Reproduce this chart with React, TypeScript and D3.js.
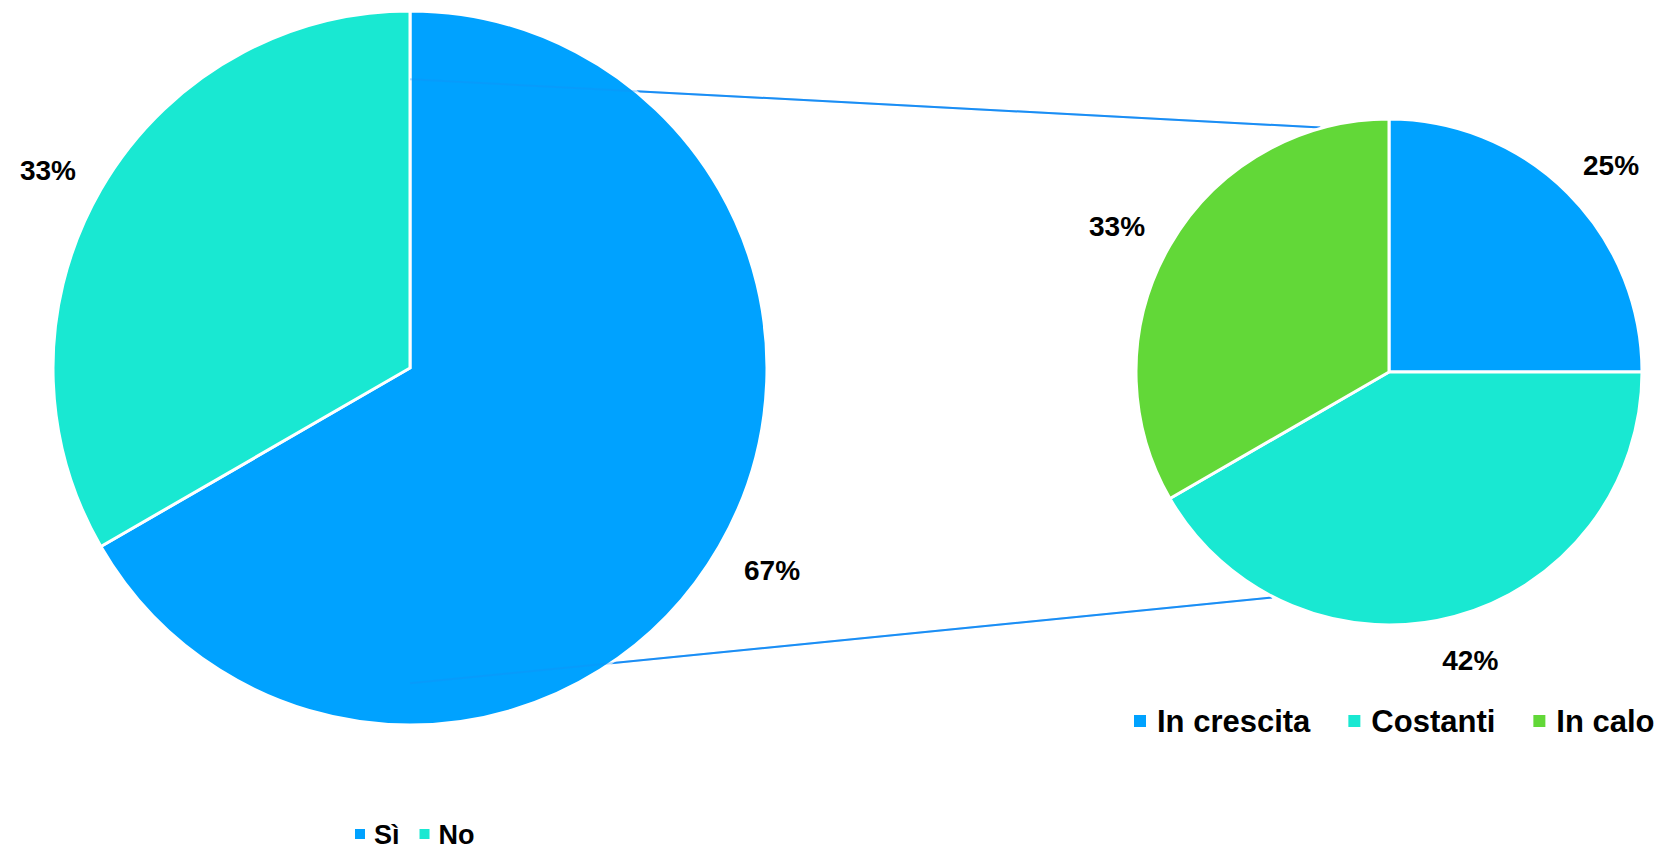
import React from "react";
import * as d3 from "d3";

// ---- data ----
const mainCategories = ["Sì", "No"];
const mainValues = [12, 6];
const subCategories = ["In crescita", "Costanti", "In calo"];
const subValues = [3, 5, 4];
const mainColors = ["#00A2FF", "#19E8D2"];
const subColors = ["#00A2FF", "#19E8D2", "#62D838"];

const W = 1661;
const H = 849;
const FONT = "'Liberation Sans', Arial, sans-serif";

const leftC = { x: 410, y: 368, r: 357 };
const rightC = { x: 1389, y: 372, r: 253 };

function measure(text: string, size: number) {
  const c = document.createElement("canvas").getContext("2d");
  if (!c) return text.length * size * 0.6;
  c.font = `bold ${size}px ${FONT}`;
  return c.measureText(text).width;
}

type PieProps = {
  cx: number;
  cy: number;
  r: number;
  values: number[];
  colors: string[];
};

function PieSlices({ cx, cy, r, values, colors }: PieProps) {
  const pie = d3.pie<number>().sort(null).value((d) => d);
  const arcs = pie(values);
  const arc = d3.arc<d3.PieArcDatum<number>>().innerRadius(0).outerRadius(r);
  return (
    <g transform={`translate(${cx},${cy})`}>
      {arcs.map((a, i) => (
        <path key={i} d={arc(a) || ""} fill={colors[i]} stroke="#fff" strokeWidth={3} strokeLinejoin="miter" />
      ))}
    </g>
  );
}

function PieLabels({ cx, cy, r, values }: { cx: number; cy: number; r: number; values: number[] }) {
  const pie = d3.pie<number>().sort(null).value((d) => d);
  const arcs = pie(values);
  const total = d3.sum(values);
  const fs = 28;
  const h = fs * 0.72;
  return (
    <g>
      {arcs.map((a, i) => {
        const label = Math.round((a.data / total) * 100) + "%";
        const w = measure(label, fs);
        const mid = (a.startAngle + a.endAngle) / 2;
        const R = r + 33;
        const ax = cx + Math.sin(mid) * R;
        const ay = cy - Math.cos(mid) * R;
        const x = ax + (Math.sin(mid) * w) / 2;
        const y = ay - (Math.cos(mid) * h) / 2 + 2;
        return (
          <text key={i} x={x} y={y} dy="0.36em" textAnchor="middle" fontFamily={FONT} fontWeight="bold" fontSize={fs} fill="#000">
            {label}
          </text>
        );
      })}
    </g>
  );
}

function Legend({
  x, y, items, colors, fs, sq, textGap, gap,
}: { x: number; y: number; items: string[]; colors: string[]; fs: number; sq: number; textGap: number; gap: number }) {
  let cur = x;
  const nodes = items.map((t, i) => {
    const w = measure(t, fs);
    const g = (
      <g key={i}>
        <rect x={cur} y={y - sq / 2} width={sq} height={sq} fill={colors[i]} />
        <text x={cur + sq + textGap} y={y} dy="0.36em" fontFamily={FONT} fontWeight="bold" fontSize={fs} fill="#000">
          {t}
        </text>
      </g>
    );
    cur += sq + textGap + w + gap;
    return g;
  });
  return <g>{nodes}</g>;
}

export default function App() {
  // connector line endpoints expressed relative to the pies
  const topStart = { x: leftC.x, y: leftC.y - leftC.r * 0.809 };
  const botStart = { x: leftC.x, y: leftC.y + leftC.r * 0.883 };
  const topEndA = (344.3 * Math.PI) / 180;
  const botEndA = (207.4 * Math.PI) / 180;
  const rr = rightC.r + 1;
  const topEnd = { x: rightC.x + Math.sin(topEndA) * rr, y: rightC.y - Math.cos(topEndA) * rr };
  const botEnd = { x: rightC.x + Math.sin(botEndA) * rr, y: rightC.y - Math.cos(botEndA) * rr };
  const lineColor = "#1A8EF5";

  const lines = (op: number) => (
    <g opacity={op}>
      <line x1={topStart.x} y1={topStart.y} x2={topEnd.x} y2={topEnd.y} stroke={lineColor} strokeWidth={2} />
      <line x1={botStart.x} y1={botStart.y} x2={botEnd.x} y2={botEnd.y} stroke={lineColor} strokeWidth={2} />
    </g>
  );

  return (
    <svg width={W} height={H} style={{ position: "absolute", left: 0, top: 0, background: "#fff" }}>
      <rect width={W} height={H} fill="#fff" />
      {lines(1)}
      <PieSlices cx={leftC.x} cy={leftC.y} r={leftC.r} values={mainValues} colors={mainColors} />
      {lines(0.3)}
      <PieSlices cx={rightC.x} cy={rightC.y} r={rightC.r} values={subValues} colors={subColors} />
      <PieLabels cx={leftC.x} cy={leftC.y} r={leftC.r} values={mainValues} />
      <PieLabels cx={rightC.x} cy={rightC.y} r={rightC.r} values={subValues} />
      <Legend x={355} y={834} items={mainCategories} colors={mainColors} fs={27} sq={10} textGap={9} gap={20} />
      <Legend x={1134} y={721} items={subCategories} colors={subColors} fs={31} sq={12} textGap={11} gap={38} />
    </svg>
  );
}
